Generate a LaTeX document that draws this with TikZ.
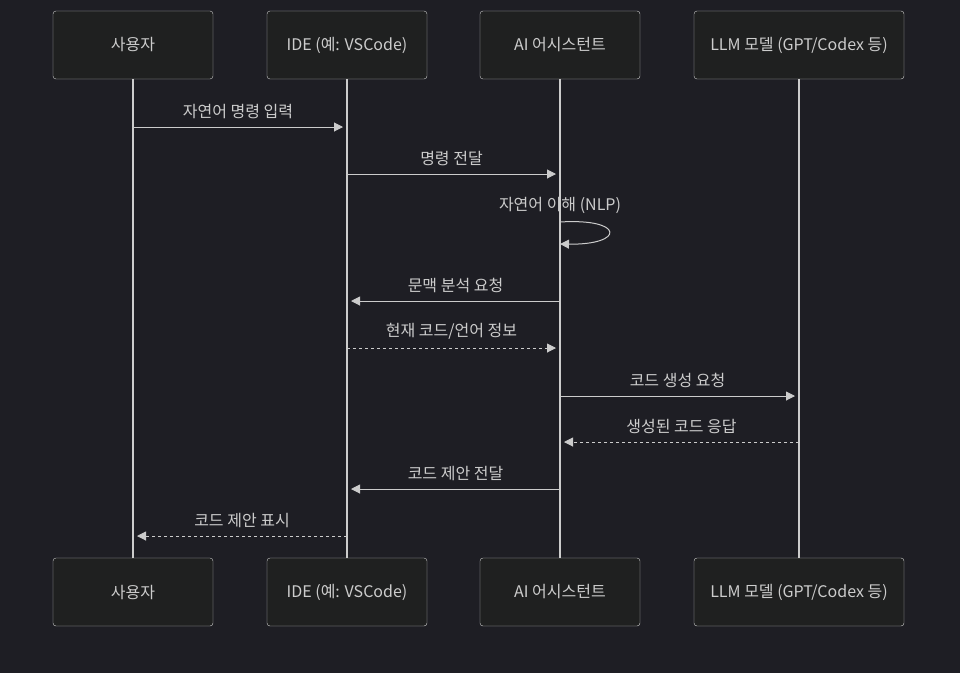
\documentclass[tikz,border=0pt]{standalone}
\usepackage{fontspec}
\setmainfont{Noto Sans CJK KR}
\usetikzlibrary{arrows.meta}
\definecolor{bg}{HTML}{1E1E24}
\definecolor{boxfill}{HTML}{1F2020}
\definecolor{fg}{HTML}{CCCCCC}
\tikzset{ac/.style = {rectangle, rounded corners=3pt, draw=fg, fill=boxfill, text=fg, minimum width=160pt, minimum height=68pt, inner sep=0pt, font=\fontsize{16}{19}\selectfont},
         ll/.style = {draw=fg, line width=1.2pt},
         msg/.style = {draw=fg, line width=1pt, -{Triangle[length=9pt,width=9pt]}},
         rep/.style = {msg, dashed},
         lb/.style = {text=fg, font=\fontsize{16}{19}\selectfont, inner sep=0pt}}

\begin{document}
\begin{tikzpicture}[x=1pt, y=-1pt]
    \fill[bg] (0,0) rectangle (960,673);
    \node[ac] (u1) at (133,45) {사용자};
    \node[ac] (i1) at (347,45) {IDE (예: VSCode)};
    \node[ac] (a1) at (560,45) {AI 어시스턴트};
    \node[ac, minimum width=210pt] (m1) at (799,45) {LLM 모델 (GPT/Codex 등)};
    \node[ac] (u2) at (133,592) {사용자};
    \node[ac] (i2) at (347,592) {IDE (예: VSCode)};
    \node[ac] (a2) at (560,592) {AI 어시스턴트};
    \node[ac, minimum width=210pt] (m2) at (799,592) {LLM 모델 (GPT/Codex 등)};
    \draw[ll] (u1) -- (u2); \draw[ll] (i1) -- (i2);
    \draw[ll] (a1) -- (a2); \draw[ll] (m1) -- (m2);
    % messages
    \draw[msg] (133,127) -- (343,127) node[lb, midway, above=8pt] {자연어 명령 입력};
    \draw[msg] (347,174) -- (556,174) node[lb, midway, above=8pt] {명령 전달};
    \node[lb] (nlp) at (560,205) {자연어 이해 (NLP)};
    \draw[msg] (560,222) .. controls (625,218) and (625,245) .. (560,244);
    \draw[msg] (560,301) -- (351,301) node[lb, midway, above=8pt] {문맥 분석 요청};
    \draw[rep] (347,348) -- (556,348) node[lb, midway, above=8pt] {현재 코드/언어 정보};
    \draw[msg] (560,396) -- (795,396) node[lb, midway, above=8pt] {코드 생성 요청};
    \draw[rep] (799,442) -- (564,442) node[lb, midway, above=8pt] {생성된 코드 응답};
    \draw[msg] (560,489) -- (351,489) node[lb, midway, above=8pt] {코드 제안 전달};
    \draw[rep] (347,536) -- (137,536) node[lb, midway, above=8pt] {코드 제안 표시};
\end{tikzpicture}
\end{document}
